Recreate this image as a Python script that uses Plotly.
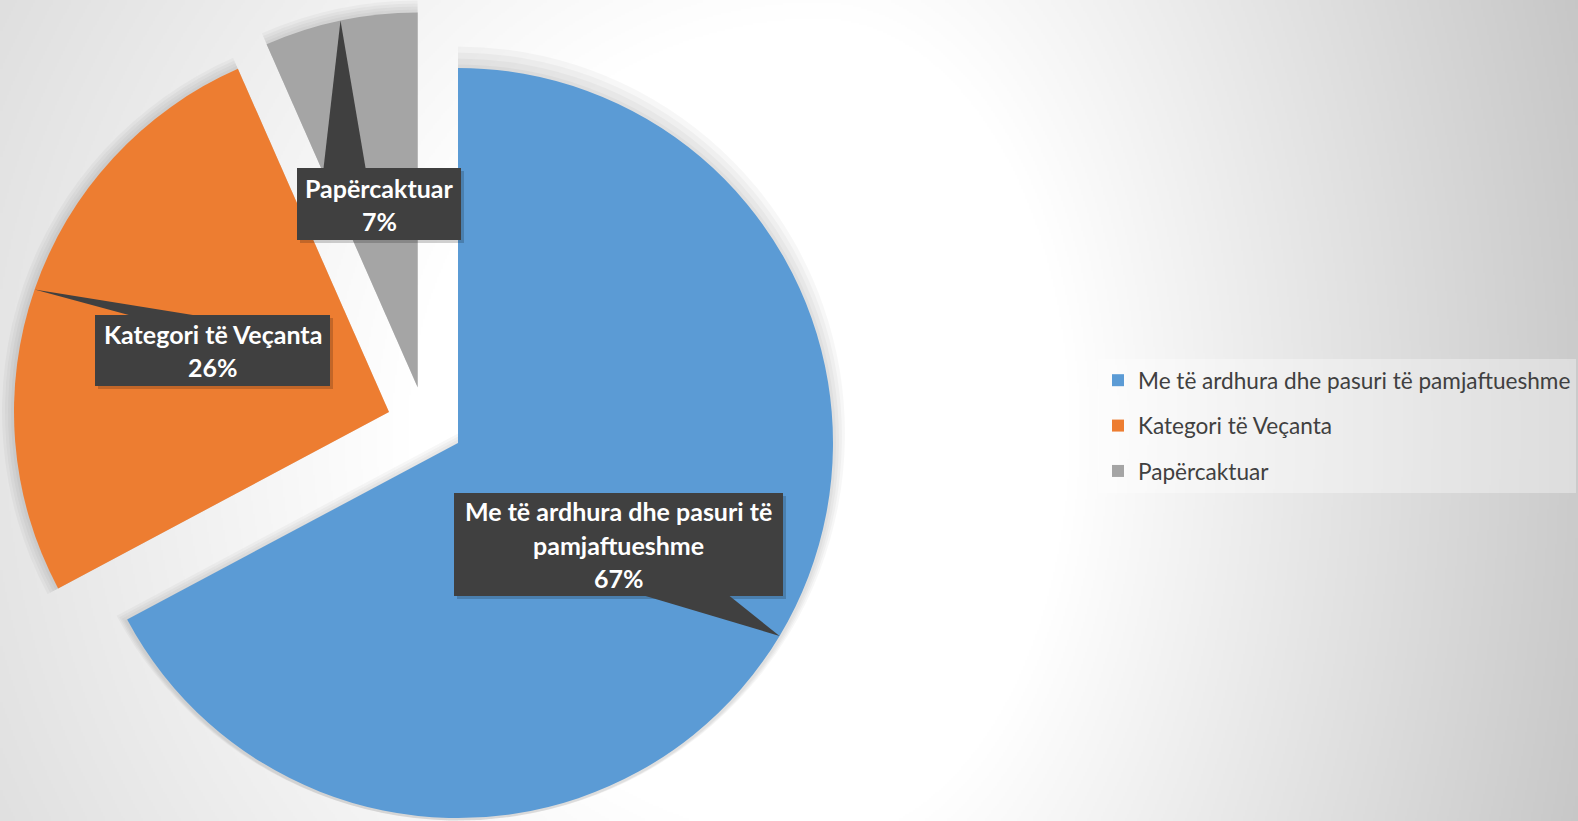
import math
import base64
import struct
import zlib
import numpy as np
import plotly.graph_objects as go

W, H = 1578, 821

# ---------------- data ----------------
categories = ["Me të ardhura dhe pasuri të pamjaftueshme", "Kategori të Veçanta", "Papërcaktuar"]
values = [67.2, 26.2, 6.6]
label_lines = [["Me të ardhura dhe pasuri të", "pamjaftueshme"], ["Kategori të Veçanta"], ["Papërcaktuar"]]

# ---------------- style / layout ----------------
colors = ["#5B9BD5", "#ED7D31", "#A5A5A5"]
PIE_R = 375                                          # px
PIE_CENTERS = [(458, 443), (389, 412), (417.7, 387.5)]  # px, exploded slices shifted
LABEL_BOXES = [(454, 493, 783, 596), (95, 315, 330, 386), (297, 168, 461, 240)]  # l, t, r, b px
POINTER_BASE = [(0.71, "bottom", 84), (0.28, "top", 64), (0.29, "top", 42)]     # frac along edge, edge, width
LINE_GAP = 33
BOX_COLOR = "#404040"
FONT = "Lato"
SHADOW_STEPS = [12, 9, 6, 3]


def px(x):
    return x / W


def py(y):
    return 1 - y / H


def png_gray(arr):
    h, w = arr.shape
    raw = b"".join(b"\x00" + arr[y].tobytes() for y in range(h))

    def chunk(tag, data):
        c = struct.pack(">I", len(data)) + tag + data
        return c + struct.pack(">I", zlib.crc32(tag + data) & 0xFFFFFFFF)

    return (b"\x89PNG\r\n\x1a\n"
            + chunk(b"IHDR", struct.pack(">IIBBBBB", w, h, 8, 0, 0, 0, 0))
            + chunk(b"IDAT", zlib.compress(raw, 9))
            + chunk(b"IEND", b""))


# background: soft radial gradient (white near the chart centre, grey at the edges)
S = 2
gx = (np.arange(W // S) + 0.5) * S
gy = (np.arange(H // S + 1) + 0.5) * S
X, Y = np.meshgrid(gx, gy)
cxg, cyg = 820.0, 430.0
dx = X - cxg
dx = np.where(dx > 0, dx / 760.0, dx / 1250.0)
dy = (Y - cyg) / 1250.0
tt = np.sqrt(dx * dx + dy * dy)
val = 255 - np.clip((tt - 0.33) / 0.67, 0, 1.15) * 52
bg_src = "data:image/png;base64," + base64.b64encode(png_gray(val.astype(np.uint8))).decode()

total = sum(values)
fig = go.Figure()

# legend-only tiny pies (hidden under the blue label box)
for i, (c, v) in enumerate(zip(categories, values)):
    fig.add_trace(go.Pie(
        labels=[c], values=[v], marker=dict(colors=[colors[i]]),
        domain=dict(x=[0.38, 0.3805], y=[0.33, 0.3305]),
        textinfo="none", hoverinfo="skip", sort=False,
        legendgroup=f"g{i}", showlegend=True,
    ))


def pie_domain(cx, cy, rad):
    shift = max(0.0, cy + rad - (H - 0.5))
    cy = cy - shift
    shift2 = max(0.0, (rad + 0.5) - cy)
    cy = cy + shift2
    return dict(x=[max(0, px(cx - rad)), min(1, px(cx + rad))],
                y=[max(0, py(cy + rad)), min(1, py(cy - rad))])


# soft shadows under each slice
for d in SHADOW_STEPS:
    for i in range(len(values)):
        cx, cy = PIE_CENTERS[i]
        cols = ["rgba(0,0,0,0.03)" if j == i else "rgba(0,0,0,0)" for j in range(len(values))]
        fig.add_trace(go.Pie(
            labels=categories, values=values, marker=dict(colors=cols, line=dict(width=0)),
            domain=pie_domain(cx, cy, PIE_R + d),
            sort=False, direction="clockwise", rotation=0,
            textinfo="none", hoverinfo="skip", showlegend=False,
        ))

# one pie trace per slice so exploded slices can be positioned
for i in range(len(values)):
    cx, cy = PIE_CENTERS[i]
    cols = [colors[j] if j == i else "rgba(0,0,0,0)" for j in range(len(values))]
    fig.add_trace(go.Pie(
        labels=categories, values=values, marker=dict(colors=cols, line=dict(width=0)),
        domain=pie_domain(cx, cy, PIE_R),
        sort=False, direction="clockwise", rotation=0,
        textinfo="none", hoverinfo="skip", showlegend=False,
    ))

shapes = []
annotations = []
cum = 0
for i, v in enumerate(values):
    mid = (cum + v / 2) / total
    cum += v
    theta = 2 * math.pi * mid
    cx, cy = PIE_CENTERS[i]
    tipx = cx + PIE_R * math.sin(theta)
    tipy = cy - PIE_R * math.cos(theta)
    l, t_, r, b = LABEL_BOXES[i]
    frac, edge, bw = POINTER_BASE[i]
    bx = l + frac * (r - l)
    by = t_ if edge == "top" else b
    shapes.append(dict(type="rect", xref="paper", yref="paper",
                       x0=px(l + 3), x1=px(r + 3), y0=py(b + 3), y1=py(t_ + 3),
                       fillcolor="rgba(0,0,0,0.18)", line=dict(width=0)))
    shapes.append(dict(type="path", xref="paper", yref="paper",
                       path=f"M {px(tipx)},{py(tipy)} L {px(bx - bw/2)},{py(by)} L {px(bx + bw/2)},{py(by)} Z",
                       fillcolor=BOX_COLOR, line=dict(width=0)))
    shapes.append(dict(type="rect", xref="paper", yref="paper",
                       x0=px(l), x1=px(r), y0=py(b), y1=py(t_),
                       fillcolor=BOX_COLOR, line=dict(width=0)))
    lines = label_lines[i] + [f"{round(v / total * 100)}%"]
    n = len(lines)
    mcy = (t_ + b) / 2
    for k, txt in enumerate(lines):
        yk = mcy + (k - (n - 1) / 2) * LINE_GAP
        annotations.append(dict(xref="paper", yref="paper", x=px((l + r) / 2), y=py(yk),
                                xanchor="center", yanchor="middle", showarrow=False, text=txt,
                                font=dict(family=FONT, size=25, color="white", weight=700)))

fig.update_layout(
    width=W, height=H,
    margin=dict(l=0, r=0, t=0, b=0),
    paper_bgcolor="#e0e0e0",
    images=[dict(source=bg_src, xref="paper", yref="paper", x=0, y=1, sizex=1, sizey=1,
                 xanchor="left", yanchor="top", sizing="stretch", layer="below")],
    shapes=shapes,
    annotations=annotations,
    legend=dict(x=px(1098), y=py(359), xanchor="left", yanchor="top",
                bgcolor="rgba(255,255,255,0.35)", borderwidth=0,
                font=dict(family=FONT, size=22.6, color="#404040"),
                traceorder="grouped", tracegroupgap=13),
    hovermode=False,
)

fig.write_html("out.html", config={"displayModeBar": False},
               post_script="document.body.style.margin='0';document.body.style.overflow='hidden';")
